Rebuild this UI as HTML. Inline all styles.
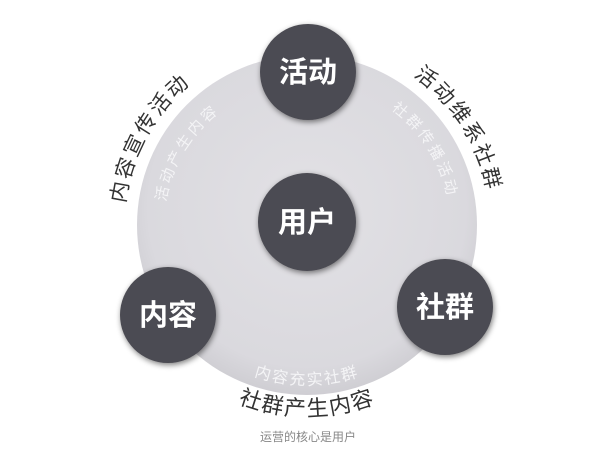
<!DOCTYPE html>
<html><head><meta charset="utf-8"><style>
html,body{margin:0;padding:0;background:#fff;width:600px;height:450px;overflow:hidden}
text{font-family:"Liberation Sans","Noto Sans CJK SC",sans-serif}
</style></head><body>
<svg width="600" height="450" viewBox="0 0 600 450" xmlns="http://www.w3.org/2000/svg">
<defs>
<radialGradient id="bg" cx="50%" cy="45%" r="55%">
<stop offset="0" stop-color="#e2e1e5"/><stop offset="0.85" stop-color="#dad9de"/><stop offset="1" stop-color="#cfced3"/>
</radialGradient>
<filter id="sh" x="-30%" y="-30%" width="160%" height="160%"><feGaussianBlur in="SourceAlpha" stdDeviation="3"/><feOffset dx="1" dy="2"/><feComponentTransfer><feFuncA type="linear" slope="0.5"/></feComponentTransfer><feMerge><feMergeNode/><feMergeNode in="SourceGraphic"/></feMerge></filter>
<path id="cwO" d="M 124 225 A 183 183 0 1 1 490 225 A 183 183 0 1 1 124 225"/>
<path id="cwI" d="M 164 225 A 143 143 0 1 1 450 225 A 143 143 0 1 1 164 225"/>
<path id="bO" d="M 116 225 A 191 191 0 0 0 498 225"/>
<path id="bI" d="M 147 225 A 160 160 0 0 0 467 225"/>
</defs>
<circle cx="307" cy="225" r="170" fill="url(#bg)"/>
<g fill="#333" font-size="21" letter-spacing="2.5">
<text text-anchor="middle"><textPath href="#cwO" startOffset="8%">内容宣传活动</textPath></text>
<text text-anchor="middle"><textPath href="#cwO" startOffset="41%">活动维系社群</textPath></text>
<text text-anchor="middle" font-size="22" letter-spacing="1.5"><textPath href="#bO" startOffset="50%">社群产生内容</textPath></text>
</g>
<g fill="#f4f4f6" font-size="15" letter-spacing="3">
<text text-anchor="middle"><textPath href="#cwI" startOffset="8.6%">活动产生内容</textPath></text>
<text text-anchor="middle"><textPath href="#cwI" startOffset="41%">社群传播活动</textPath></text>
<text text-anchor="middle" font-size="16" letter-spacing="2"><textPath href="#bI" startOffset="50%">内容充实社群</textPath></text>
</g>
<g fill="#4c4b52" filter="url(#sh)">
<circle cx="308" cy="72" r="48"/>
<circle cx="307" cy="222" r="49"/>
<circle cx="168" cy="315" r="48"/>
<circle cx="445" cy="307" r="48"/>
</g>
<g fill="#fff" font-size="29" font-weight="bold" text-anchor="middle">
<text x="308" y="82">活动</text>
<text x="307" y="232">用户</text>
<text x="168" y="325">内容</text>
<text x="445" y="317">社群</text>
</g>
<text x="308" y="441" text-anchor="middle" font-size="12" fill="#888">运营的核心是用户</text>
</svg>
</body></html>
